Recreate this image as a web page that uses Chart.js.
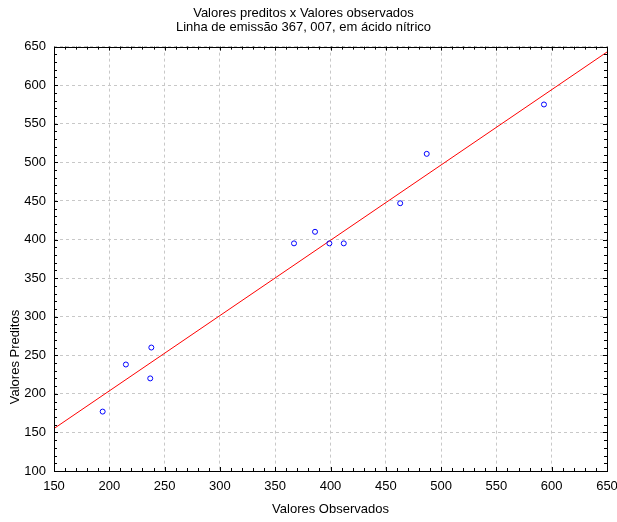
<!DOCTYPE html>
<html>
<head>
<meta charset="utf-8">
<script src="https://cdn.jsdelivr.net/npm/chart.js@4"></script>
<style>
  html, body { margin: 0; padding: 0; background: #fff; }
</style>
</head>
<body>
<canvas id="chart" width="617" height="522"></canvas>
<script>
const observed = [194, 215, 238, 237, 367, 386, 399, 412, 463, 487, 593];
const predicted = [177, 238, 260, 220, 395, 410, 395, 395, 447, 511, 575];

// fitted line end points
const fitX = [150, 650];
const fitY = [155, 643];

const titleLines = ['Valores preditos x Valores observados', 'Linha de emissão 367, 007, em ácido nítrico'];
const xTitle = 'Valores Observados';
const yTitle = 'Valores Preditos';

Chart.defaults.font.family = '"Liberation Sans", Arial, sans-serif';
Chart.defaults.font.size = 13;
Chart.defaults.color = '#000';

// frame, inward minor ticks on all four sides and the y axis title
const frameTicks = {
    id: 'frameTicks',
    afterDraw(chart) {
        const ctx = chart.ctx;
        const a = chart.chartArea;
        const xs = chart.scales.x, ys = chart.scales.y;
        ctx.save();
        ctx.strokeStyle = '#000';
        ctx.lineWidth = 1;
        ctx.beginPath();
        for (let v = xs.min; v <= xs.max; v += 10) {
            const px = Math.round(xs.getPixelForValue(v)) + 0.5;
            const len = v % 50 === 0 ? 4 : 3;
            ctx.moveTo(px, a.bottom); ctx.lineTo(px, a.bottom - len);
            ctx.moveTo(px, a.top); ctx.lineTo(px, a.top + len);
        }
        for (let v = ys.min; v <= ys.max; v += 10) {
            const py = Math.round(ys.getPixelForValue(v)) + 0.5;
            const len = v % 50 === 0 ? 4 : 3;
            ctx.moveTo(a.left, py); ctx.lineTo(a.left + len, py);
            ctx.moveTo(a.right, py); ctx.lineTo(a.right - len, py);
        }
        ctx.stroke();
        ctx.strokeRect(Math.round(a.left) + 0.5, Math.round(a.top) + 0.5,
            Math.round(a.right - a.left), Math.round(a.bottom - a.top));

        ctx.fillStyle = '#000';
        ctx.font = '13px "Liberation Sans", Arial, sans-serif';
        ctx.translate(15, 357);
        ctx.rotate(-Math.PI / 2);
        ctx.textAlign = 'center';
        ctx.textBaseline = 'middle';
        ctx.fillText(yTitle, 0, 0);
        ctx.restore();
    }
};

const gridStyle = {
    color: '#c8c8c8',
    lineWidth: 1,
    drawTicks: false
};

new Chart(document.getElementById('chart').getContext('2d'), {
    type: 'scatter',
    data: {
        datasets: [{
            label: 'Observados',
            data: observed.map((x, i) => ({ x: x, y: predicted[i] })),
            pointStyle: 'circle',
            pointRadius: 2.5,
            borderColor: '#0000ff',
            backgroundColor: 'rgba(0,0,0,0)',
            borderWidth: 1,
            showLine: false
        }, {
            type: 'line',
            label: 'Ajuste',
            data: fitX.map((x, i) => ({ x: x, y: fitY[i] })),
            borderColor: '#ff0000',
            borderWidth: 1,
            pointRadius: 0,
            fill: false
        }]
    },
    options: {
        responsive: false,
        animation: false,
        devicePixelRatio: 1,
        layout: { padding: { top: 0, right: 10, left: 0, bottom: 0 } },
        plugins: {
            legend: { display: false },
            tooltip: { enabled: false },
            title: {
                display: true,
                text: titleLines,
                color: '#000',
                font: { size: 13, weight: 'normal', lineHeight: 1.1 },
                padding: { top: 6, bottom: 12 }
            }
        },
        scales: {
            x: {
                type: 'linear',
                min: 150,
                max: 650,
                grid: gridStyle,
                border: { display: false, dash: [3, 3] },
                ticks: { stepSize: 50, padding: 8, maxRotation: 0 },
                title: { display: true, text: xTitle, padding: { top: 0, bottom: 5 } },
                afterFit(scale) {
                    scale.height = 51;
                    scale.paddingLeft = 0;
                    scale.paddingRight = 0;
                }
            },
            y: {
                type: 'linear',
                min: 100,
                max: 650,
                grid: gridStyle,
                border: { display: false, dash: [3, 3] },
                ticks: { stepSize: 50, padding: 8 },
                afterFit(scale) { scale.width = 54; }
            }
        }
    },
    plugins: [frameTicks]
});
</script>
</body>
</html>
